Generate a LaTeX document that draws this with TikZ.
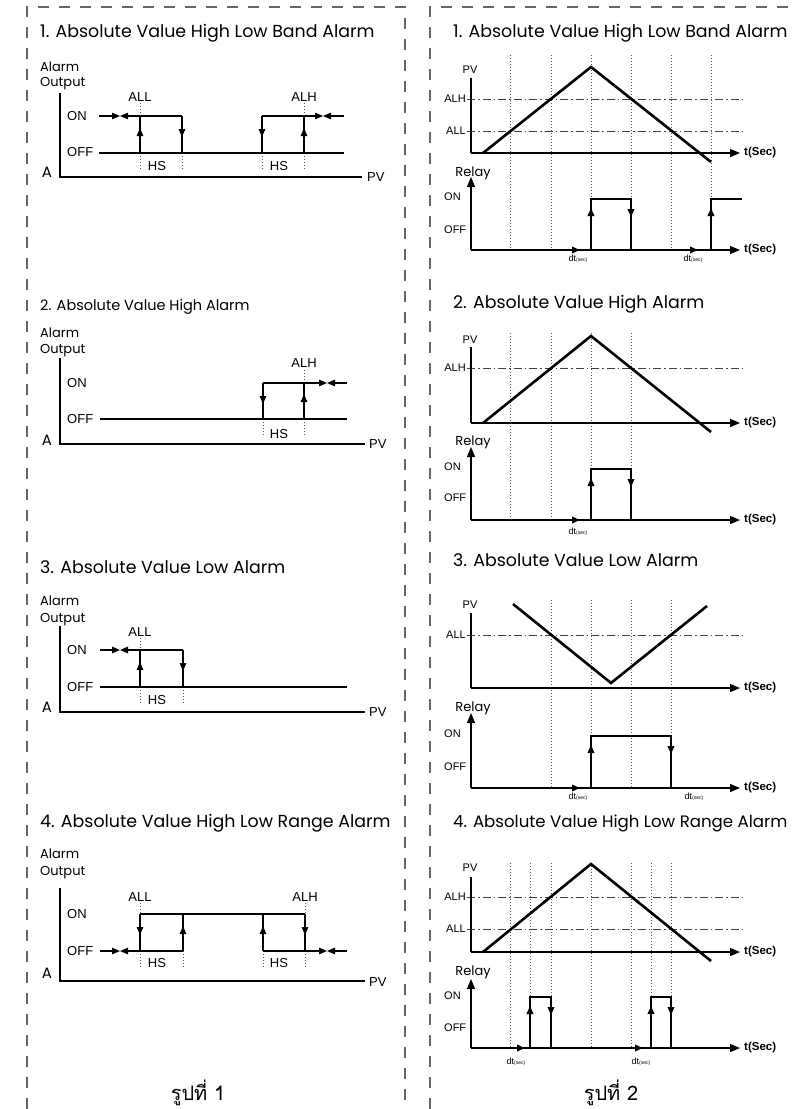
\documentclass[tikz,border=0pt]{standalone}
\usepackage{fontspec}
\newfontfamily\titlefont{Poppins}
\newfontfamily\lblfont{Liberation Sans}
\newfontfamily\thaifont[Script=Thai]{Loma}
\usetikzlibrary{arrows.meta,decorations.markings}

\newcommand{\dtsec}{{\fontsize{9}{9}\selectfont dt}{\fontsize{5}{5}\selectfont(sec)}}

\begin{document}
\begin{tikzpicture}[x=1pt,y=-1pt,line cap=butt,
  frame/.style={draw=black!60,line width=1.3pt,dash pattern=on 11pt off 10pt},
  ln/.style={line width=1.2pt},
  ax/.style={line width=1.2pt},
  guide/.style={draw=black!65,line width=1pt,dash pattern=on 1.3pt off 1.7pt},
  lim/.style={draw=black!75,line width=0.9pt,dash pattern=on 8pt off 3pt on 1.5pt off 3pt},
  pv/.style={line width=2.6pt},
  sig/.style={line width=2.6pt,postaction={decorate}},
  tri/.tip={Triangle[length=8pt,width=6.5pt]},
  bigtri/.tip={Triangle[length=10pt,width=8pt]},
  midarr/.style={postaction={decorate},decoration={markings,mark=at position #1 with {\arrow{tri}}}},
  am/.style={decoration={markings,mark=at position #1 with {\arrow{tri}}}},
  ttl/.style={font=\titlefont\fontsize{17.4}{17.4}\selectfont,anchor=base west,inner sep=0pt},
  ttls/.style={font=\titlefont\fontsize{14.5}{14.5}\selectfont,anchor=base west,inner sep=0pt},
  ttlr/.style={font=\titlefont\fontsize{16.6}{16.6}\selectfont,anchor=base west,inner sep=0pt},
  yname/.style={font=\titlefont\fontsize{13}{13}\selectfont,anchor=base west,inner sep=0pt},
  orig/.style={font=\titlefont\fontsize{15}{15}\selectfont,inner sep=0pt},
  lvl/.style={font=\lblfont\fontsize{13}{13}\selectfont,inner sep=0pt},
  rlbl/.style={font=\lblfont\fontsize{11}{11}\selectfont,inner sep=0pt},
  tsec/.style={font=\lblfont\bfseries\fontsize{11.5}{11.5}\selectfont,anchor=west,inner sep=0pt},
  dt/.style={font=\lblfont,inner sep=0pt},
  figcaption/.style={font=\thaifont\fontsize{20}{20}\selectfont,anchor=base,inner sep=0pt}]

  \useasboundingbox (0,0) rectangle (798,1109);

  % panel frames
  \draw[frame] (27,1109) -- (27,7) -- (405,7) -- (405,1109);
  \draw[frame] (430,1109) -- (430,7) -- (798,7);

  % ---------- left: 1 ----------
  \node[ttl] (t1a) at (40,37) {1. Absolute Value High Low Band Alarm};
  \node[yname] (y1a) at (40,71) {Alarm};
  \node[yname] (y1b) at (40,86) {Output};
  \node[orig] (o1) at (47,172) {A};
  \draw[ax] (60,93) -- (60,177) -- (362,177);
  \node[lvl,anchor=west] (pv1) at (367,177) {PV};
  \node[lvl,anchor=west] (on1) at (67,116) {ON};
  \node[lvl,anchor=west] (off1) at (67,152) {OFF};
  \draw[guide] (140,103) -- (140,116) (140,153) -- (140,170) (182,153) -- (182,170)
    (262,153) -- (262,170) (304,153) -- (304,170) (304,103) -- (304,116);
  \draw[ln] (99,153) -- (344,153);
  \draw[ln,-tri] (99,116) -- (120,116);
  \draw[ln,-tri] (182,116) -- (120,116);
  \draw[ln,midarr=25pt] (140,153) -- (140,116);
  \draw[ln,midarr=21pt] (182,116) -- (182,153);
  \draw[ln,-tri] (262,116) -- (323,116);
  \draw[ln,-tri] (344,116) -- (323,116);
  \draw[ln,midarr=21pt] (262,116) -- (262,153);
  \draw[ln,midarr=25pt] (304,153) -- (304,116);
  \node[lvl] (all1) at (140,97) {ALL};
  \node[lvl] (alh1) at (304,97) {ALH};
  \node[lvl] (hs1a) at (157,166) {HS};
  \node[lvl] (hs1b) at (279,166) {HS};

  % ---------- left: 2 ----------
  \node[ttls] (t2a) at (40,310) {2. Absolute Value High Alarm};
  \node[yname] (y2a) at (40,337) {Alarm};
  \node[yname] (y2b) at (40,353) {Output};
  \node[orig] (o2) at (47,440) {A};
  \draw[ax] (60,358) -- (60,444) -- (365,444);
  \node[lvl,anchor=west] (pv2) at (369,444) {PV};
  \node[lvl,anchor=west] (on2) at (67,383) {ON};
  \node[lvl,anchor=west] (off2) at (67,419) {OFF};
  \draw[guide] (304,370) -- (304,383) (263,419) -- (263,437) (304,419) -- (304,437);
  \draw[ln] (100,419) -- (347,419);
  \draw[ln,-tri] (263,383) -- (327,383);
  \draw[ln,-tri] (347,383) -- (327,383);
  \draw[ln,midarr=21pt] (263,383) -- (263,419);
  \draw[ln,midarr=25pt] (304,419) -- (304,383);
  \node[lvl] (alh2) at (304,363) {ALH};
  \node[lvl] (hs2) at (279,434) {HS};

  % ---------- left: 3 ----------
  \node[ttl] (t3a) at (40,573) {3. Absolute Value Low Alarm};
  \node[yname] (y3a) at (40,605) {Alarm};
  \node[yname] (y3b) at (40,622) {Output};
  \node[orig] (o3) at (47,707) {A};
  \draw[ax] (60,626) -- (60,712) -- (365,712);
  \node[lvl,anchor=west] (pv3) at (369,712) {PV};
  \node[lvl,anchor=west] (on3) at (67,650) {ON};
  \node[lvl,anchor=west] (off3) at (67,687) {OFF};
  \draw[guide] (140,638) -- (140,650) (140,687) -- (140,703) (183,687) -- (183,703);
  \draw[ln] (100,687) -- (347,687);
  \draw[ln,-tri] (100,650) -- (120,650);
  \draw[ln,-tri] (183,650) -- (120,650);
  \draw[ln,midarr=25pt] (140,687) -- (140,650);
  \draw[ln,midarr=21pt] (183,650) -- (183,687);
  \node[lvl] (all3) at (140,632) {ALL};
  \node[lvl] (hs3) at (157,700) {HS};

  % ---------- left: 4 ----------
  \node[ttl] (t4a) at (40,827) {4. Absolute Value High Low Range Alarm};
  \node[yname] (y4a) at (40,858) {Alarm};
  \node[yname] (y4b) at (40,875) {Output};
  \node[orig] (o4) at (47,973) {A};
  \draw[ax] (60,888) -- (60,981) -- (365,981);
  \node[lvl,anchor=west] (pv4) at (369,982) {PV};
  \node[lvl,anchor=west] (on4) at (67,914) {ON};
  \node[lvl,anchor=west] (off4) at (67,951) {OFF};
  \draw[guide] (140,903) -- (140,914) (305,903) -- (305,914)
    (140,951) -- (140,968) (183,951) -- (183,968) (263,951) -- (263,968) (305,951) -- (305,968);
  \draw[ln] (140,914) -- (305,914);
  \draw[ln,-tri] (100,951) -- (120,951);
  \draw[ln,-tri] (183,951) -- (120,951);
  \draw[ln,-tri] (263,951) -- (327,951);
  \draw[ln,-tri] (347,951) -- (327,951);
  \draw[ln,midarr=21pt] (140,914) -- (140,951);
  \draw[ln,midarr=25pt] (183,951) -- (183,914);
  \draw[ln,midarr=25pt] (263,951) -- (263,914);
  \draw[ln,midarr=21pt] (305,914) -- (305,951);
  \node[lvl] (all4) at (140,897) {ALL};
  \node[lvl] (alh4) at (305,897) {ALH};
  \node[lvl] (hs4a) at (157,963) {HS};
  \node[lvl] (hs4b) at (279,963) {HS};

  \node[figcaption] (cap1) at (198,1100) {รูปที่ 1};

  % ---------- right: 1 ----------
  \node[ttl] (t1b) at (453,37) {1. Absolute Value High Low Band Alarm};
  \foreach \gx in {510,551,591,631,671,711}
    \draw[guide] (\gx,55) -- (\gx,250);
  \draw[lim] (467,99) -- (742,99);
  \draw[lim] (467,131) -- (742,131);
  \node[rlbl,anchor=east] (alh5) at (466,99) {ALH};
  \node[rlbl,anchor=east] (all5) at (466,131) {ALL};
  \node[rlbl] (pv5) at (470,70) {PV};
  \draw[ax] (471,78) -- (471,153);
  \draw[ax,-bigtri] (471,153) -- (740,153);
  \node[tsec] (ts5a) at (744,153) {t(Sec)};
  \draw[pv] (483,153) -- (591,67) -- (711,162);
  \node[yname,anchor=center] (rel5) at (473,173) {Relay};
  \draw[ax,-bigtri] (471,250) -- (471,177);
  \draw[ax,-bigtri] (471,250) -- (740,250);
  \node[tsec] (ts5b) at (744,250) {t(Sec)};
  \node[rlbl,anchor=west] (on5) at (444,197) {ON};
  \node[rlbl,anchor=west] (off5) at (444,230) {OFF};
  \draw[sig,am=109pt,am=162pt,am=229pt,am=329pt,am=384pt]
    (471,250) -- (591,250) -- (591,199) -- (631,199) -- (631,250)
    -- (711,250) -- (711,199) -- (742,199);
  \node[dt] (dt5a) at (578,259) {\dtsec};
  \node[dt] (dt5b) at (693,259) {\dtsec};

  % ---------- right: 2 ----------
  \node[ttl] (t2b) at (453,308) {2. Absolute Value High Alarm};
  \foreach \gx in {510,551,591,631}
    \draw[guide] (\gx,333) -- (\gx,520);
  \draw[lim] (467,368) -- (742,368);
  \node[rlbl,anchor=east] (alh6) at (466,368) {ALH};
  \node[rlbl] (pv6) at (470,340) {PV};
  \draw[ax] (471,347) -- (471,423);
  \draw[ax,-bigtri] (471,423) -- (740,423);
  \node[tsec] (ts6a) at (744,423) {t(Sec)};
  \draw[pv] (483,423) -- (591,336) -- (711,432);
  \node[yname,anchor=center] (rel6) at (473,442) {Relay};
  \draw[ax,-bigtri] (471,520) -- (471,447);
  \draw[ax,-bigtri] (471,520) -- (740,520);
  \node[tsec] (ts6b) at (744,520) {t(Sec)};
  \node[rlbl,anchor=west] (on6) at (444,467) {ON};
  \node[rlbl,anchor=west] (off6) at (444,498) {OFF};
  \draw[sig,am=109pt,am=162pt,am=229pt]
    (471,520) -- (591,520) -- (591,469) -- (631,469) -- (631,520) -- (731,520);
  \node[dt] (dt6) at (578,532) {\dtsec};

  % ---------- right: 3 ----------
  \node[ttl] (t3b) at (453,566) {3. Absolute Value Low Alarm};
  \foreach \gx in {551,591,631,671}
    \draw[guide] (\gx,600) -- (\gx,788);
  \draw[lim] (467,635) -- (742,635);
  \node[rlbl,anchor=east] (all7) at (466,635) {ALL};
  \node[rlbl] (pv7) at (470,605) {PV};
  \draw[ax] (471,613) -- (471,688);
  \draw[ax,-bigtri] (471,688) -- (740,688);
  \node[tsec] (ts7a) at (744,688) {t(Sec)};
  \draw[pv] (513,604) -- (611,683) -- (707,606);
  \node[yname,anchor=center] (rel7) at (473,708) {Relay};
  \draw[ax,-bigtri] (471,788) -- (471,713);
  \draw[ax,-bigtri] (471,788) -- (740,788);
  \node[tsec] (ts7b) at (744,788) {t(Sec)};
  \node[rlbl,anchor=west] (on7) at (444,734) {ON};
  \node[rlbl,anchor=west] (off7) at (444,767) {OFF};
  \draw[sig,am=109pt,am=163pt,am=270pt]
    (471,788) -- (591,788) -- (591,736) -- (671,736) -- (671,788) -- (731,788);
  \node[dt] (dt7a) at (578,797) {\dtsec};
  \node[dt] (dt7b) at (694,797) {\dtsec};

  % ---------- right: 4 ----------
  \node[ttlr] (t4b) at (453,827) {4. Absolute Value High Low Range Alarm};
  \foreach \gx in {510,530,551,591,631,651,671}
    \draw[guide] (\gx,863) -- (\gx,1048);
  \draw[lim] (467,897) -- (742,897);
  \draw[lim] (467,929) -- (742,929);
  \node[rlbl,anchor=east] (alh8) at (466,897) {ALH};
  \node[rlbl,anchor=east] (all8) at (466,929) {ALL};
  \node[rlbl] (pv8) at (470,868) {PV};
  \draw[ax] (471,877) -- (471,952);
  \draw[ax,-bigtri] (471,952) -- (740,952);
  \node[tsec] (ts8a) at (744,952) {t(Sec)};
  \draw[pv] (483,952) -- (591,864) -- (711,961);
  \node[yname,anchor=center] (rel8) at (473,972) {Relay};
  \draw[ax,-bigtri] (471,1048) -- (471,979);
  \draw[ax,-bigtri] (471,1048) -- (740,1048);
  \node[tsec] (ts8b) at (744,1048) {t(Sec)};
  \node[rlbl,anchor=west] (on8) at (444,996) {ON};
  \node[rlbl,anchor=west] (off8) at (444,1028) {OFF};
  \draw[sig,am=54pt,am=101pt,am=149pt,am=274pt,am=324pt,am=371pt]
    (471,1048) -- (530,1048) -- (530,997) -- (551,997) -- (551,1048)
    -- (651,1048) -- (651,997) -- (671,997) -- (671,1048) -- (731,1048);
  \node[dt] (dt8a) at (516,1062) {\dtsec};
  \node[dt] (dt8b) at (641,1062) {\dtsec};

  \node[figcaption] (cap2) at (611,1100) {รูปที่ 2};
\end{tikzpicture}
\end{document}
